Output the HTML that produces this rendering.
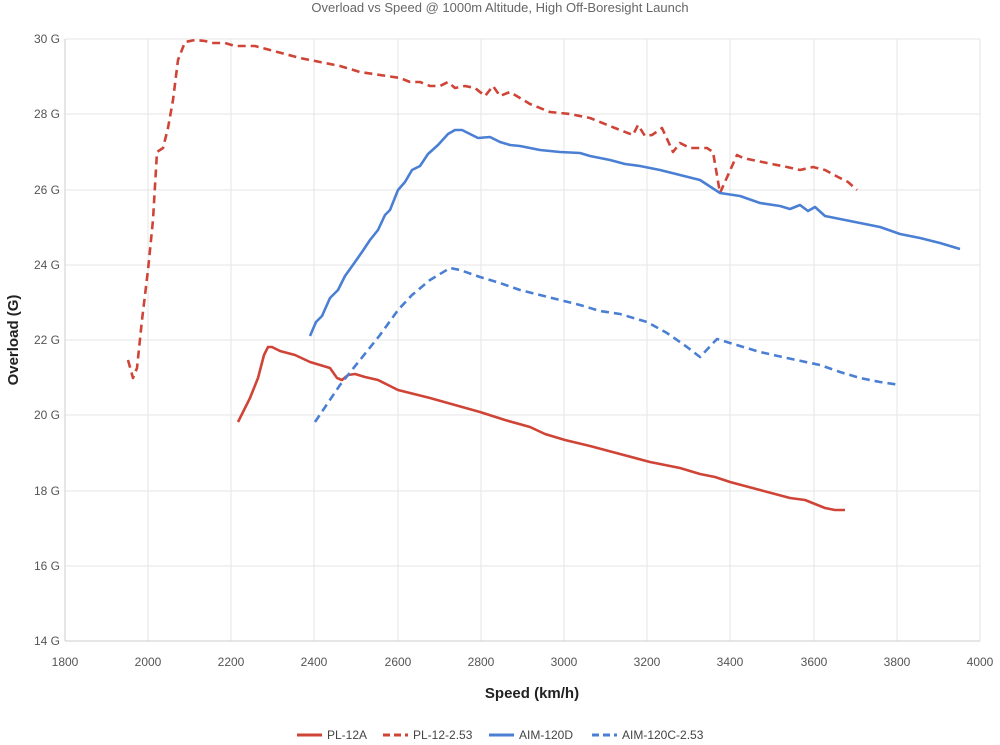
<!DOCTYPE html>
<html><head><meta charset="utf-8"><style>
body{margin:0;background:#fff;}
svg{display:block;font-family:"Liberation Sans",sans-serif;}
</style></head><body>
<svg width="1000" height="745" viewBox="0 0 1000 745">
<text x="500" y="12" text-anchor="middle" font-size="13" fill="#666">Overload vs Speed @ 1000m Altitude, High Off-Boresight Launch</text>
<g stroke="#e6e6e6" stroke-width="1">
<line x1="65" y1="39" x2="980" y2="39"/><line x1="65" y1="114" x2="980" y2="114"/><line x1="65" y1="190" x2="980" y2="190"/><line x1="65" y1="265" x2="980" y2="265"/><line x1="65" y1="340" x2="980" y2="340"/><line x1="65" y1="415" x2="980" y2="415"/><line x1="65" y1="491" x2="980" y2="491"/><line x1="65" y1="566" x2="980" y2="566"/>
<line x1="148" y1="39" x2="148" y2="641"/><line x1="231" y1="39" x2="231" y2="641"/><line x1="314" y1="39" x2="314" y2="641"/><line x1="398" y1="39" x2="398" y2="641"/><line x1="481" y1="39" x2="481" y2="641"/><line x1="564" y1="39" x2="564" y2="641"/><line x1="647" y1="39" x2="647" y2="641"/><line x1="730" y1="39" x2="730" y2="641"/><line x1="814" y1="39" x2="814" y2="641"/><line x1="897" y1="39" x2="897" y2="641"/><line x1="980" y1="39" x2="980" y2="641"/>
</g>
<line x1="65" y1="39" x2="65" y2="641" stroke="#ccc"/>
<line x1="65" y1="641" x2="980" y2="641" stroke="#ccc"/>
<g font-size="12" fill="#555" text-anchor="end">
<text x="60" y="43">30 G</text><text x="60" y="118">28 G</text><text x="60" y="194">26 G</text><text x="60" y="269">24 G</text><text x="60" y="344">22 G</text><text x="60" y="419">20 G</text><text x="60" y="495">18 G</text><text x="60" y="570">16 G</text><text x="60" y="645">14 G</text>
</g>
<g font-size="12" fill="#555" text-anchor="middle">
<text x="65" y="666">1800</text><text x="148" y="666">2000</text><text x="231" y="666">2200</text><text x="314" y="666">2400</text><text x="398" y="666">2600</text><text x="481" y="666">2800</text><text x="564" y="666">3000</text><text x="647" y="666">3200</text><text x="730" y="666">3400</text><text x="814" y="666">3600</text><text x="897" y="666">3800</text><text x="980" y="666">4000</text>
</g>
<text x="532" y="698" text-anchor="middle" font-size="15" font-weight="bold" fill="#222">Speed (km/h)</text>
<text transform="translate(18,340) rotate(-90)" text-anchor="middle" font-size="15" font-weight="bold" fill="#222">Overload (G)</text>
<g fill="none" stroke-width="2.6" stroke-linejoin="round">
<polyline stroke="#cf4436" points="238,422 250,398 258,378 264,355 268,347 272,347 280,351 295,355 310,362 320,365 330,368 337,378 342,380 348,375 355,374 365,377 378,380 388,385 398,390 410,393 430,398 455,405 480,412 505,420 530,427 545,434 565,440 590,446 620,454 650,462 680,468 700,474 715,477 730,482 745,486 760,490 775,494 790,498 805,500 815,504 825,508 835,510 845,510"/>
<polyline stroke="#cf4436" stroke-dasharray="8,5" points="128,360 133,378 137,368 142,320 148,270 153,220 157,152 163,148 168,128 173,100 178,60 185,42 195,40 205,41 212,43 225,43 235,46 255,46 270,50 285,54 300,58 320,62 340,66 360,72 380,75 400,78 410,82 420,82 430,86 440,86 448,82 455,88 465,86 475,88 485,96 493,86 500,96 510,92 520,98 530,104 550,112 570,114 590,118 620,130 633,135 638,125 645,136 652,135 662,128 673,152 680,143 690,148 707,148 713,152 720,193 737,155 743,158 767,163 787,167 800,170 813,167 825,170 838,177 848,182 857,190"/>
<polyline stroke="#4a7fd4" points="310,336 316,322 322,316 330,298 338,290 345,276 355,262 362,252 370,240 378,230 385,215 390,210 398,190 405,182 412,170 420,166 428,154 438,145 448,134 455,130 462,130 470,134 478,138 490,137 500,142 510,145 520,146 530,148 540,150 560,152 580,153 590,156 610,160 625,164 640,166 660,170 680,175 700,180 720,193 740,196 760,203 780,206 790,209 800,205 808,211 815,207 825,216 840,219 860,223 880,227 900,234 920,238 940,243 960,249"/>
<polyline stroke="#4a7fd4" stroke-dasharray="8,5" points="315,422 340,385 360,360 380,335 398,310 412,295 430,280 450,268 460,270 480,277 500,283 520,290 540,295 560,300 580,305 600,311 620,314 647,322 667,333 687,347 700,357 717,339 730,343 760,352 787,358 820,365 840,372 860,378 880,382 900,385"/>
</g>
<g font-size="12" fill="#444">
<line x1="297" y1="735" x2="322" y2="735" stroke="#cf4436" stroke-width="3"/><text x="327" y="739">PL-12A</text>
<line x1="383" y1="735" x2="408" y2="735" stroke="#cf4436" stroke-width="3" stroke-dasharray="7,4"/><text x="413" y="739">PL-12-2.53</text>
<line x1="489" y1="735" x2="514" y2="735" stroke="#4a7fd4" stroke-width="3"/><text x="519" y="739">AIM-120D</text>
<line x1="592" y1="735" x2="617" y2="735" stroke="#4a7fd4" stroke-width="3" stroke-dasharray="7,4"/><text x="622" y="739">AIM-120C-2.53</text>
</g>
</svg>
</body></html>
